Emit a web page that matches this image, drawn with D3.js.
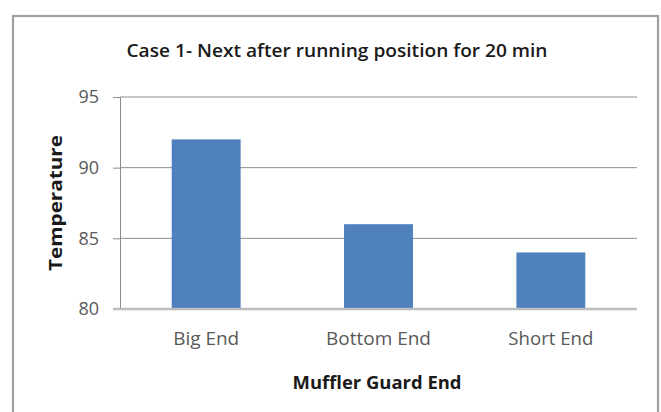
<!DOCTYPE html>
<html>
<head>
<meta charset="utf-8">
<script src="https://cdn.jsdelivr.net/npm/d3@7"></script>
<style>
  body { margin: 0; background: #fff; }
  svg text { font-family: "Open Sans", "Noto Sans", sans-serif; }
</style>
</head>
<body>
<svg id="chart" width="661" height="412"></svg>
<script>
const categories = ["Big End", "Bottom End", "Short End"];
const temperatures = [92, 86, 84];
const yTicks = [80, 85, 90, 95];

const svg = d3.select("#chart");
const plot = { left: 120, right: 637, top: 97, bottom: 309 };

// chart frame
svg.append("rect")
  .attr("x", 13).attr("y", 16)
  .attr("width", 645).attr("height", 410)
  .attr("fill", "#fff")
  .attr("stroke", "#a0a0a0").attr("stroke-width", 2.2);

const x = d3.scaleBand()
  .domain(categories)
  .range([plot.left, plot.right])
  .paddingInner(0.6)
  .paddingOuter(0.3);

const y = d3.scaleLinear()
  .domain([80, 95])
  .range([plot.bottom, plot.top]);

// gridlines
svg.append("g")
  .selectAll("line")
  .data(yTicks.filter(t => t > 80))
  .join("line")
  .attr("x1", plot.left).attr("x2", plot.right)
  .attr("y1", d => y(d)).attr("y2", d => y(d))
  .attr("stroke", "#8c8c8c").attr("stroke-width", 1);

// y axis
const yAxis = svg.append("g")
  .attr("transform", `translate(${plot.left},0)`)
  .call(d3.axisLeft(y).tickValues(yTicks).tickSize(7).tickPadding(14).tickFormat(d3.format("d")));
yAxis.select(".domain").attr("stroke", "#8c8c8c");
yAxis.selectAll(".tick line").attr("stroke", "#8c8c8c");
yAxis.selectAll(".tick text")
  .attr("fill", "#595959").attr("font-size", 18);

// bars
svg.append("g")
  .selectAll("rect")
  .data(temperatures)
  .join("rect")
  .attr("x", (d, i) => x(categories[i]))
  .attr("y", d => y(d))
  .attr("width", x.bandwidth())
  .attr("height", d => y(80) - y(d))
  .attr("fill", "#4f81bd");

// x axis
const xAxis = svg.append("g")
  .attr("transform", `translate(0,${plot.bottom})`)
  .call(d3.axisBottom(x).tickSize(0).tickPadding(23));
xAxis.select(".domain")
  .attr("d", `M${plot.left - 7},0H${plot.right}`)
  .attr("stroke", "#bdbdbd").attr("stroke-width", 2.5);
const labelWidths = [66, 105, 85];
xAxis.selectAll(".tick text")
  .attr("fill", "#595959").attr("font-size", 18)
  .attr("textLength", (d, i) => labelWidths[i])
  .attr("lengthAdjust", "spacingAndGlyphs");

// titles
svg.append("text")
  .attr("x", 337).attr("y", 57)
  .attr("text-anchor", "middle")
  .attr("font-size", 18).attr("font-weight", 600)
  .attr("fill", "#1a1a1a")
  .attr("textLength", 421).attr("lengthAdjust", "spacingAndGlyphs")
  .text("Case 1- Next after running position for 20 min");

svg.append("text")
  .attr("x", 377).attr("y", 389)
  .attr("text-anchor", "middle")
  .attr("font-size", 17).attr("font-weight", 700)
  .attr("fill", "#1a1a1a")
  .attr("textLength", 169).attr("lengthAdjust", "spacingAndGlyphs")
  .text("Muffler Guard End");

svg.append("text")
  .attr("transform", "translate(62,203) rotate(-90)")
  .attr("text-anchor", "middle")
  .attr("font-size", 17).attr("font-weight", 700)
  .attr("fill", "#1a1a1a")
  .attr("textLength", 136).attr("lengthAdjust", "spacingAndGlyphs")
  .text("Temperature");
</script>
</body>
</html>
